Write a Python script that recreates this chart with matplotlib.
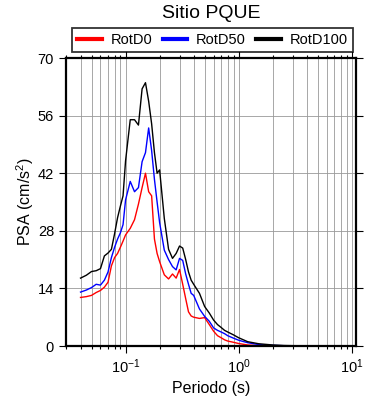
import numpy as np
import matplotlib
matplotlib.use("Agg")
import matplotlib.pyplot as plt
from matplotlib.ticker import LogLocator, NullFormatter

plt.rcParams['font.family'] = ['Liberation Sans', 'DejaVu Sans']
plt.rcParams['mathtext.fontset'] = 'custom'
plt.rcParams['mathtext.rm'] = 'Liberation Sans'

periodo = [0.04, 0.045, 0.05, 0.055, 0.06, 0.065, 0.07, 0.075, 0.08, 0.085,
           0.09, 0.095, 0.1, 0.11, 0.12, 0.13, 0.14, 0.15, 0.16, 0.17,
           0.18, 0.19, 0.2, 0.22, 0.24, 0.26, 0.28, 0.3, 0.32, 0.34,
           0.36, 0.38, 0.4, 0.45, 0.5, 0.55, 0.6, 0.65, 0.7, 0.75,
           0.8, 0.9, 1.0, 1.2, 1.5, 2.0, 2.5, 3.0, 4.0, 5.0,
           7.0, 10.0]

rotd0 = [11.8, 12.0, 12.3, 13.0, 13.5, 14.3, 15.5, 19.5, 21.5, 22.5,
         24.0, 25.5, 27.0, 28.6, 30.7, 34.5, 38.5, 42.0, 37.5, 36.5,
         26.0, 22.5, 20.5, 17.3, 16.3, 17.5, 16.5, 18.6, 15.0, 11.5,
         8.3, 7.3, 7.0, 6.7, 6.9, 5.2, 3.6, 2.5, 2.0, 1.5,
         1.2, 0.9, 0.6, 0.25, 0.1, 0.05, 0.03, 0.02, 0.01, 0.01,
         0.005, 0.003]

rotd50 = [13.1, 13.6, 14.2, 15.0, 14.8, 16.0, 18.0, 21.5, 24.0, 26.0,
          27.5, 29.5, 35.5, 40.0, 37.5, 38.5, 44.8, 47.0, 53.0, 47.5,
          40.5, 35.0, 30.0, 23.3, 21.0, 19.3, 18.5, 21.3, 20.8, 17.5,
          15.0, 12.8, 12.3, 9.0, 7.2, 6.0, 4.4, 3.8, 3.4, 3.0,
          2.5, 1.9, 1.4, 0.8, 0.35, 0.15, 0.08, 0.05, 0.03, 0.02,
          0.01, 0.005]

rotd100 = [16.5, 17.2, 18.1, 18.3, 18.8, 21.9, 22.6, 23.5, 27.3, 31.2,
           34.0, 36.5, 45.0, 55.0, 55.0, 53.7, 62.5, 64.0, 59.5, 54.0,
           47.0, 42.0, 42.8, 31.0, 23.5, 21.3, 22.5, 24.3, 23.8, 21.0,
           18.0, 16.0, 15.0, 12.8, 9.6, 8.0, 6.3, 5.2, 4.5, 3.8,
           3.4, 2.7, 2.0, 1.05, 0.55, 0.25, 0.12, 0.08, 0.05, 0.03,
           0.02, 0.01]

fig = plt.figure(figsize=(3.9, 4.0), dpi=100)
ax = fig.add_axes([0.169, 0.135, 0.744, 0.72])

ax.plot(periodo, rotd0, color='red', lw=1.0, label='RotD0')
ax.plot(periodo, rotd50, color='blue', lw=1.0, label='RotD50')
ax.plot(periodo, rotd100, color='black', lw=1.0, label='RotD100')

ax.set_xscale('log')
ax.set_xlim(0.0297, 10.9)
ax.set_ylim(0, 70)
ax.set_yticks([0, 14, 28, 42, 56, 70])
ax.xaxis.set_major_locator(LogLocator(base=10, numticks=10))
ax.xaxis.set_minor_locator(LogLocator(base=10, subs=np.arange(2, 10), numticks=20))
ax.xaxis.set_minor_formatter(NullFormatter())

ax.grid(True, which='both', axis='x', color='#999999', lw=0.6)
ax.grid(True, which='major', axis='y', color='#999999', lw=0.6)
ax.set_axisbelow(True)

for s in ax.spines.values():
    s.set_linewidth(1.6)
ax.tick_params(which='both', direction='out', top=True, right=True,
               labeltop=False, labelright=False, labelsize=10.5, width=0.8)
ax.tick_params(which='major', length=5)
ax.tick_params(which='minor', length=2.5)

ax.set_xlabel('Periodo (s)', fontsize=11.5, labelpad=3)
ax.set_ylabel('PSA (cm/s$^2$)', fontsize=11.5, labelpad=1)
ax.set_title('Sitio PQUE', fontsize=14, pad=29)

leg = ax.legend(loc='lower center', bbox_to_anchor=(0.505, 1.02), ncol=3,
                fontsize=10.5, frameon=True, fancybox=False, edgecolor='black',
                handlelength=1.7, handletextpad=0.6, columnspacing=0.7,
                borderpad=0.35, borderaxespad=0)
leg.get_frame().set_linewidth(1.3)
for line in leg.get_lines():
    line.set_linewidth(3)

fig.savefig('out.png', dpi=100)
